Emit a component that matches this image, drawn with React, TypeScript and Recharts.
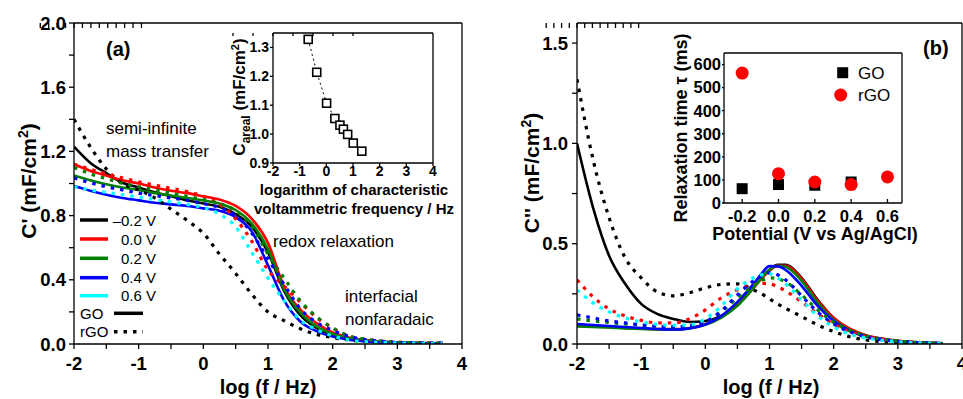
import React from 'react';
import { ComposedChart, ScatterChart, Line, Scatter, XAxis, YAxis } from 'recharts';

const FONT = '"Liberation Sans", Arial, Helvetica, sans-serif';

// log (f / Hz) sample positions, panel (a)
const logFA = [-2, -1.75, -1.5, -1.25, -1, -0.75, -0.5, -0.25, 0, 0.25, 0.5, 0.75, 1, 1.25, 1.5, 1.75, 2, 2.25, 2.5, 2.75, 3, 3.25, 3.5, 3.7];

// (a) C' (mF/cm2)
const realGO_m02 = [1.23, 1.13, 1.065, 1.005, 0.975, 0.945, 0.92, 0.895, 0.875, 0.855, 0.81, 0.73, 0.57, 0.33, 0.18, 0.1, 0.055, 0.032, 0.019, 0.012, 0.008, 0.006, 0.005, 0.005];
const realGO_0 = [1.12, 1.08, 1.05, 1.02, 1.0, 0.975, 0.955, 0.94, 0.92, 0.9, 0.86, 0.78, 0.63, 0.355, 0.215, 0.13, 0.072, 0.04, 0.024, 0.015, 0.01, 0.007, 0.006, 0.005];
const realGO_02 = [1.05, 1.02, 0.995, 0.975, 0.96, 0.94, 0.925, 0.91, 0.895, 0.875, 0.835, 0.75, 0.59, 0.34, 0.195, 0.11, 0.062, 0.035, 0.021, 0.013, 0.009, 0.006, 0.005, 0.005];
const realGO_04 = [0.985, 0.955, 0.93, 0.91, 0.895, 0.88, 0.87, 0.86, 0.845, 0.83, 0.79, 0.7, 0.49, 0.27, 0.14, 0.08, 0.046, 0.027, 0.016, 0.01, 0.007, 0.005, 0.004, 0.004];
const realRGO_m02 = [1.4, 1.23, 1.09, 1.0, 0.96, 0.91, 0.84, 0.77, 0.69, 0.56, 0.44, 0.31, 0.2, 0.145, 0.095, 0.06, 0.04, 0.025, 0.016, 0.011, 0.008, 0.006, 0.005, 0.005];
const realRGO_0 = [1.12, 1.09, 1.06, 1.035, 1.01, 0.99, 0.97, 0.95, 0.92, 0.87, 0.78, 0.64, 0.46, 0.36, 0.26, 0.165, 0.1, 0.05, 0.03, 0.018, 0.011, 0.008, 0.006, 0.005];
const realRGO_02 = [1.1, 1.06, 1.03, 1.0, 0.98, 0.96, 0.94, 0.92, 0.9, 0.875, 0.83, 0.73, 0.56, 0.41, 0.27, 0.17, 0.1, 0.05, 0.03, 0.018, 0.011, 0.008, 0.006, 0.005];
const realRGO_04 = [1.035, 1.005, 0.98, 0.96, 0.94, 0.925, 0.91, 0.895, 0.875, 0.85, 0.8, 0.69, 0.53, 0.37, 0.22, 0.135, 0.085, 0.048, 0.028, 0.017, 0.01, 0.007, 0.005, 0.005];
const realRGO_06 = [0.98, 0.96, 0.945, 0.93, 0.915, 0.9, 0.885, 0.87, 0.85, 0.81, 0.73, 0.57, 0.41, 0.27, 0.15, 0.09, 0.05, 0.025, 0.015, 0.01, 0.007, 0.005, 0.004, 0.004];

// log (f / Hz) sample positions, panel (b)
const logFB = [-2, -1.75, -1.5, -1.25, -1, -0.75, -0.5, -0.25, 0, 0.25, 0.5, 0.75, 0.875, 1, 1.125, 1.25, 1.5, 1.75, 2, 2.25, 2.5, 2.75, 3, 3.25, 3.5, 3.7];

// (b) C'' (mF/cm2)
const imagGO_m02 = [1.0, 0.68, 0.44, 0.3, 0.2, 0.15, 0.125, 0.11, 0.115, 0.14, 0.195, 0.28, 0.33, 0.37, 0.395, 0.395, 0.33, 0.22, 0.13, 0.075, 0.043, 0.026, 0.015, 0.009, 0.005, 0.003];
const imagGO_0 = [0.09, 0.087, 0.084, 0.08, 0.077, 0.074, 0.074, 0.08, 0.098, 0.135, 0.195, 0.28, 0.325, 0.365, 0.39, 0.39, 0.325, 0.215, 0.13, 0.076, 0.044, 0.027, 0.016, 0.009, 0.005, 0.003];
const imagGO_02 = [0.088, 0.085, 0.082, 0.078, 0.075, 0.072, 0.072, 0.078, 0.096, 0.132, 0.19, 0.28, 0.33, 0.37, 0.39, 0.385, 0.315, 0.205, 0.12, 0.07, 0.041, 0.025, 0.015, 0.009, 0.005, 0.003];
const imagGO_04 = [0.1, 0.095, 0.09, 0.085, 0.08, 0.075, 0.072, 0.078, 0.097, 0.14, 0.21, 0.3, 0.35, 0.388, 0.387, 0.37, 0.29, 0.19, 0.115, 0.065, 0.038, 0.022, 0.013, 0.008, 0.005, 0.003];
const imagRGO_m02 = [1.32, 0.92, 0.63, 0.43, 0.33, 0.26, 0.24, 0.255, 0.28, 0.297, 0.3, 0.27, 0.25, 0.225, 0.2, 0.178, 0.137, 0.095, 0.062, 0.036, 0.02, 0.012, 0.007, 0.005, 0.003, 0.002];
const imagRGO_0 = [0.32, 0.235, 0.175, 0.14, 0.118, 0.105, 0.105, 0.125, 0.17, 0.23, 0.27, 0.295, 0.302, 0.3, 0.285, 0.265, 0.21, 0.15, 0.1, 0.062, 0.038, 0.023, 0.014, 0.009, 0.005, 0.003];
const imagRGO_02 = [0.125, 0.115, 0.107, 0.1, 0.093, 0.088, 0.087, 0.09, 0.11, 0.16, 0.23, 0.29, 0.315, 0.33, 0.325, 0.31, 0.245, 0.17, 0.108, 0.066, 0.04, 0.024, 0.014, 0.009, 0.005, 0.003];
const imagRGO_04 = [0.145, 0.13, 0.115, 0.105, 0.095, 0.088, 0.085, 0.09, 0.11, 0.165, 0.245, 0.315, 0.34, 0.355, 0.345, 0.32, 0.24, 0.16, 0.1, 0.06, 0.036, 0.022, 0.013, 0.008, 0.005, 0.003];
const imagRGO_06 = [0.27, 0.205, 0.16, 0.13, 0.11, 0.098, 0.093, 0.095, 0.125, 0.19, 0.275, 0.33, 0.345, 0.35, 0.33, 0.3, 0.22, 0.14, 0.085, 0.05, 0.03, 0.018, 0.011, 0.007, 0.004, 0.003];

// inset (a): characteristic voltammetric frequency vs areal capacitance
const logFc = [-0.68, -0.36, 0.01, 0.32, 0.51, 0.64, 0.8, 1.01, 1.33];
const cAreal = [1.328, 1.214, 1.107, 1.054, 1.031, 1.017, 0.999, 0.969, 0.941];

// inset (b): relaxation time vs potential
const potentialGO = [-0.2, 0.0, 0.2, 0.4];
const tauGO = [62, 80, 77, 91];
const potentialRGO = [-0.2, 0.0, 0.2, 0.4, 0.6];
const tauRGO = [563, 127, 91, 80, 113];

// legend / tick labels
const potentialLabels = ['\u20130.2 V', '0.0 V', '0.2 V', '0.4 V', '0.6 V'];
const potentialColors = ['#000000', '#ff0000', '#008000', '#0000ff', '#00ffff'];
const xHalfTicks = [-2, -1.5, -1, -0.5, 0, 0.5, 1, 1.5, 2, 2.5, 3, 3.5, 4];
const realYTicks = [0, 0.2, 0.4, 0.6, 0.8, 1.0, 1.2, 1.4, 1.6, 1.8, 2.0];
const realYRightTicks = [0, 0.4, 0.8, 1.2, 1.6, 2.0];
const imagYTicks = [0, 0.25, 0.5, 0.75, 1.0, 1.25, 1.5];
const imagYRightTicks = [0, 0.5, 1.0, 1.5];
const insetAXTicks = [-2, -1, 0, 1, 2, 3, 4];
const insetAYTicks = [0.9, 1.0, 1.1, 1.2, 1.3];
const insetBXTicks = [-0.2, 0.0, 0.2, 0.4, 0.6];
const insetBYTicks = [0, 100, 200, 300, 400, 500, 600];

const realData = logFA.map((x, i) => ({
  x,
  go_m02: realGO_m02[i], go_0: realGO_0[i], go_02: realGO_02[i], go_04: realGO_04[i],
  rgo_m02: realRGO_m02[i], rgo_0: realRGO_0[i], rgo_02: realRGO_02[i], rgo_04: realRGO_04[i], rgo_06: realRGO_06[i],
}));
const imagData = logFB.map((x, i) => ({
  x,
  go_m02: imagGO_m02[i], go_0: imagGO_0[i], go_02: imagGO_02[i], go_04: imagGO_04[i],
  rgo_m02: imagRGO_m02[i], rgo_0: imagRGO_0[i], rgo_02: imagRGO_02[i], rgo_04: imagRGO_04[i], rgo_06: imagRGO_06[i],
}));
const insetAData = logFc.map((x, i) => ({ x, c: cAreal[i] }));
const insetBGO = potentialGO.map((v, i) => ({ v, tau: tauGO[i] }));
const insetBRGO = potentialRGO.map((v, i) => ({ v, tau: tauRGO[i] }));

const SERIES = [
  { key: 'go_m02', color: potentialColors[0], dotted: false },
  { key: 'go_0', color: potentialColors[1], dotted: false },
  { key: 'go_02', color: potentialColors[2], dotted: false },
  { key: 'go_04', color: potentialColors[3], dotted: false },
  { key: 'rgo_m02', color: potentialColors[0], dotted: true },
  { key: 'rgo_0', color: potentialColors[1], dotted: true },
  { key: 'rgo_02', color: potentialColors[2], dotted: true },
  { key: 'rgo_04', color: potentialColors[3], dotted: true },
  { key: 'rgo_06', color: potentialColors[4], dotted: true },
];

const BLK = { stroke: '#000', strokeWidth: 1.3 };
const mainTick = { fill: '#000', fontSize: 18.5, fontWeight: 700, fontFamily: FONT };
const insetATick = { fill: '#000', fontSize: 14, fontWeight: 700, fontFamily: FONT };
const insetBTick = { fill: '#000', fontSize: 16.5, fontWeight: 700, fontFamily: FONT };
const blank = () => '';
const intFmt = (v: number) => (Number.isInteger(v) ? String(v) : '');

const renderLines = () =>
  SERIES.map((s) => (
    <Line
      key={s.key}
      type="monotone"
      dataKey={s.key}
      stroke={s.color}
      strokeWidth={s.dotted ? 3.2 : 2.6}
      strokeDasharray={s.dotted ? '3.5 6' : undefined}
      dot={false}
      activeDot={false}
      isAnimationActive={false}
    />
  ));

const SquareDot = (props: any) => {
  const { cx, cy, index } = props;
  if (cx == null || cy == null) return <g key={`e${index}`} />;
  return <rect key={`s${index}`} x={cx - 4} y={cy - 4} width={8} height={8} fill="#fff" stroke="#000" strokeWidth={1.6} />;
};
const FilledSquare = (props: any) => <rect x={props.cx - 5.5} y={props.cy - 5.5} width={11} height={11} fill="#000" />;
const FilledCircle = (props: any) => <circle cx={props.cx} cy={props.cy} r={6.5} fill="#ff0000" />;

export default function App() {
  return (
    <div style={{ position: 'absolute', left: 0, top: 0, width: 963, height: 399, overflow: 'hidden', background: '#fff', fontFamily: FONT }}>
      {/* Panel (a) */}
      <div style={{ position: 'absolute', left: 0, top: 0 }}>
        <ComposedChart width={480} height={399} data={realData} margin={{ top: 23, right: 18, bottom: 0, left: 0 }}>
          <XAxis dataKey="x" type="number" domain={[-2, 4]} ticks={xHalfTicks} interval={0} allowDataOverflow height={55}
            tickSize={5} tickMargin={8} tickFormatter={intFmt} tick={mainTick} axisLine={BLK} tickLine={BLK} />
          <XAxis xAxisId="top" orientation="top" type="number" domain={[-2, 4]} ticks={xHalfTicks} interval={0} allowDataOverflow
            mirror tickSize={5} tickFormatter={blank} axisLine={BLK} tickLine={BLK} />
          <YAxis type="number" domain={[0, 2]} ticks={realYTicks} interval={0} allowDataOverflow width={74}
            tickSize={5} tickMargin={3}
            tickFormatter={(v: number) => (Math.round(v * 10) % 4 === 0 ? v.toFixed(1) : '')}
            tick={mainTick} axisLine={BLK} tickLine={BLK} />
          <YAxis yAxisId="right" orientation="right" type="number" domain={[0, 2]} ticks={realYRightTicks} interval={0}
            mirror tickSize={6} tickFormatter={blank} axisLine={BLK} tickLine={BLK} />
          {renderLines()}
        </ComposedChart>
      </div>

      {/* Panel (b) */}
      <div style={{ position: 'absolute', left: 480, top: 0 }}>
        <ComposedChart width={500} height={399} data={imagData} margin={{ top: 23, right: 18, bottom: 0, left: 0 }}>
          <XAxis dataKey="x" type="number" domain={[-2, 4]} ticks={xHalfTicks} interval={0} allowDataOverflow height={55}
            tickSize={5} tickMargin={8} tickFormatter={intFmt} tick={mainTick} axisLine={BLK} tickLine={BLK} />
          <XAxis xAxisId="top" orientation="top" type="number" domain={[-2, 4]} ticks={xHalfTicks} interval={0} allowDataOverflow
            mirror tickSize={5} tickFormatter={blank} axisLine={BLK} tickLine={BLK} />
          <YAxis type="number" domain={[0, 1.6]} ticks={imagYTicks} interval={0} allowDataOverflow width={97}
            tickSize={5} tickMargin={4} tickFormatter={(v: number) => (Math.round(v * 100) % 50 === 0 ? v.toFixed(1) : '')}
            tick={mainTick} axisLine={BLK} tickLine={BLK} />
          <YAxis yAxisId="right" orientation="right" type="number" domain={[0, 1.6]} ticks={imagYRightTicks} interval={0}
            mirror tickSize={6} tickFormatter={blank} axisLine={BLK} tickLine={BLK} />
          {renderLines()}
        </ComposedChart>
      </div>

      {/* Inset (a) */}
      <div style={{ position: 'absolute', left: 200, top: 0 }}>
        <ComposedChart width={260} height={200} data={insetAData} margin={{ top: 33, right: 27, bottom: 0, left: 0 }}>
          <XAxis dataKey="x" type="number" domain={[-2, 4]} ticks={insetAXTicks} interval={0} allowDataOverflow height={37}
            tickSize={3} tickMargin={0} tick={insetATick} axisLine={BLK} tickLine={BLK} />
          <XAxis xAxisId="top" orientation="top" type="number" domain={[-2, 4]} ticks={insetAXTicks} interval={0}
            mirror tickSize={3} tickFormatter={blank} axisLine={BLK} tickLine={BLK} />
          <YAxis type="number" domain={[0.9, 1.35]} ticks={insetAYTicks} interval={0} allowDataOverflow width={73}
            tickSize={3} tickMargin={1} tickFormatter={(v: number) => v.toFixed(1)} tick={insetATick} axisLine={BLK} tickLine={BLK} />
          <YAxis yAxisId="right" orientation="right" type="number" domain={[0.9, 1.35]} ticks={insetAYTicks} interval={0}
            mirror tickSize={3} tickFormatter={blank} axisLine={BLK} tickLine={BLK} />
          <Line type="linear" dataKey="c" stroke="#000" strokeWidth={1} strokeDasharray="2 3" dot={<SquareDot />}
            activeDot={false} isAnimationActive={false} />
        </ComposedChart>
      </div>

      {/* Inset (b) */}
      <div style={{ position: 'absolute', left: 620, top: 20 }}>
        <ScatterChart width={300} height={240} margin={{ top: 33, right: 18, bottom: 0, left: 0 }}>
          <XAxis dataKey="v" type="number" domain={[-0.3, 0.68]} ticks={insetBXTicks} interval={0} allowDataOverflow height={57}
            tickSize={-4} tickMargin={11} tickFormatter={(v: number) => v.toFixed(1)} tick={insetBTick} axisLine={BLK} tickLine={BLK} />
          <XAxis xAxisId="top" orientation="top" type="number" domain={[-0.3, 0.68]} ticks={insetBXTicks} interval={0}
            mirror tickSize={4} tickFormatter={blank} axisLine={BLK} tickLine={BLK} />
          <YAxis dataKey="tau" type="number" domain={[0, 650]} ticks={insetBYTicks} interval={0} allowDataOverflow width={104}
            tickSize={2} tickMargin={1} tick={insetBTick} axisLine={BLK} tickLine={BLK} />
          <YAxis yAxisId="right" orientation="right" type="number" domain={[0, 650]} ticks={insetBYTicks} interval={0}
            mirror tickSize={4} tickFormatter={blank} axisLine={BLK} tickLine={BLK} />
          <Scatter data={insetBGO} shape={FilledSquare} isAnimationActive={false} />
          <Scatter data={insetBRGO} shape={FilledCircle} isAnimationActive={false} />
        </ScatterChart>
      </div>

      {/* Titles, annotations and legends */}
      <svg width={963} height={399} style={{ position: 'absolute', left: 0, top: 0, pointerEvents: 'none' }} fontFamily={FONT} fill="#000">
        {/* panel (a) */}
        <text x={106} y={56} fontSize={20} fontWeight={700}>(a)</text>
        <text transform="translate(36,181) rotate(-90)" textAnchor="middle" fontSize={21} fontWeight={700}>
          C' (mF/cm<tspan dy={-8} fontSize={14}>2</tspan><tspan dy={8}>)</tspan>
        </text>
        <text x={268} y={394} textAnchor="middle" fontSize={20} fontWeight={700}>log (f / Hz)</text>
        <text x={106} y={134} fontSize={17}>semi-infinite</text>
        <text x={106} y={157} fontSize={17}>mass transfer</text>
        <text x={273} y={247} fontSize={17}>redox relaxation</text>
        <text x={345} y={302} fontSize={17}>interfacial</text>
        <text x={345} y={325} fontSize={17}>nonfaradaic</text>

        {potentialLabels.map((lab, i) => {
          const cy = [220, 239, 258.3, 277.7, 295.7][i];
          return (
            <g key={lab}>
              <line x1={80} x2={108} y1={cy} y2={cy} stroke={potentialColors[i]} strokeWidth={3.5} />
              <text x={156} y={cy + 5.5} textAnchor="end" fontSize={15}>{lab}</text>
            </g>
          );
        })}
        <text x={80} y={318.5} fontSize={15}>GO</text>
        <line x1={114} x2={143} y1={313.3} y2={313.3} stroke="#000" strokeWidth={3.5} />
        <text x={80} y={337} fontSize={15}>rGO</text>
        <line x1={114} x2={143} y1={331.7} y2={331.7} stroke="#000" strokeWidth={3.5} strokeDasharray="3.5 6" />

        {/* inset (a) titles */}
        <text transform="translate(245,97) rotate(-90)" textAnchor="middle" fontSize={17} fontWeight={700}>
          C<tspan dy={5} fontSize={12}>areal</tspan><tspan dy={-5}> (mF/cm</tspan><tspan dy={-6} fontSize={11}>2</tspan><tspan dy={6}>)</tspan>
        </text>
        <text x={354} y={195} textAnchor="middle" fontSize={15} fontWeight={700}>logarithm of characteristic</text>
        <text x={354} y={214} textAnchor="middle" fontSize={15} fontWeight={700}>voltammetric frequency / Hz</text>

        {/* panel (b) */}
        <text x={923} y={55} fontSize={20} fontWeight={700}>(b)</text>
        <text transform="translate(539,173) rotate(-90)" textAnchor="middle" fontSize={21} fontWeight={700}>
          C'' (mF/cm<tspan dy={-8} fontSize={14}>2</tspan><tspan dy={8}>)</tspan>
        </text>
        <text x={771} y={394} textAnchor="middle" fontSize={20} fontWeight={700}>log (f / Hz)</text>

        {/* inset (b) titles and legend */}
        <text transform="translate(687,128) rotate(-90)" textAnchor="middle" fontSize={18} fontWeight={700}>Relaxation time τ (ms)</text>
        <text x={815} y={240} textAnchor="middle" fontSize={18} fontWeight={700}>Potential (V vs Ag/AgCl)</text>
        <rect x={837.2} y={67.2} width={11} height={11} fill="#000" />
        <text x={858} y={79} fontSize={17}>GO</text>
        <circle cx={840.7} cy={95} r={6.5} fill="#ff0000" />
        <text x={858} y={101} fontSize={17}>rGO</text>
      </svg>
    </div>
  );
}
